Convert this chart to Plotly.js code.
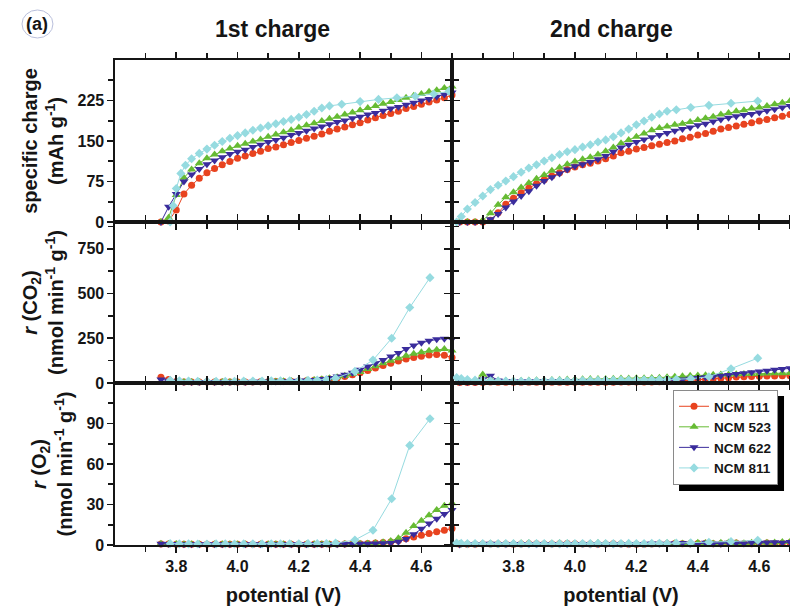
<!DOCTYPE html>
<html><head><meta charset="utf-8">
<script src="https://cdn.plot.ly/plotly-3.0.1.min.js"></script>
<style>html,body{margin:0;padding:0;background:#fff}#chart{width:790px;height:610px}</style>
</head><body><div id="chart"></div><script>
// ---------- DATA ----------
const seriesNames = ['NCM 111', 'NCM 523', 'NCM 622', 'NCM 811'];
const columnTitles = ['1st charge', '2nd charge'];

// potentials (V), 1st charge
const pot1 = [3.750,3.775,3.800,3.825,3.850,3.875,3.900,3.925,3.950,3.975,4.000,4.025,4.050,4.075,4.100,4.125,4.150,4.175,4.200,4.225,4.250,4.275,4.300,4.325,4.350,4.375,4.400,4.425,4.450,4.475,4.500,4.525,4.550,4.575,4.600,4.625,4.650,4.675,4.700];
const cyanPot1 = [3.780,3.790,3.800,3.815,3.830,3.850,3.875,3.900,3.925,3.950,3.975,4.000,4.025,4.050,4.075,4.100,4.125,4.150,4.175,4.200,4.225,4.250,4.275,4.300,4.340,4.400,4.460,4.520,4.580,4.640,4.690];
const cyanRatePot1 = [3.780,3.810,3.840,3.870,3.900,3.930,3.960,3.990,4.020,4.050,4.080,4.110,4.140,4.170,4.200,4.230,4.260,4.290,4.320,4.383,4.442,4.503,4.562,4.628];
// potentials (V), 2nd charge
const pot2 = [3.625,3.650,3.675,3.700,3.725,3.750,3.775,3.800,3.825,3.850,3.875,3.900,3.925,3.950,3.975,4.000,4.025,4.050,4.075,4.100,4.125,4.150,4.175,4.200,4.225,4.250,4.275,4.300,4.325,4.350,4.375,4.400,4.425,4.450,4.475,4.500,4.525,4.550,4.575,4.600,4.625,4.650,4.675,4.700];
const cyanPot2 = [3.615,3.630,3.650,3.675,3.700,3.725,3.750,3.775,3.800,3.825,3.850,3.875,3.900,3.925,3.950,3.975,4.000,4.025,4.050,4.075,4.100,4.125,4.150,4.175,4.200,4.225,4.250,4.275,4.300,4.330,4.377,4.436,4.508,4.595];

// specific charge (mAh/g), 1st charge
const q1_111 = [0,2,22,52,68,81,91,99,106,112,118,122,127,131,136,139,143,147,151,155,159,163,168,172,176,180,184,189,193,197,201,205,210,214,218,222,226,230,235];
const q1_523 = [0,8,50,82,97,109,118,125,131,136,141,145,149,153,158,162,166,170,175,179,183,187,191,195,199,203,207,211,215,219,222,226,230,234,237,241,244,248,251];
const q1_622 = [0,28,52,75,88,98,107,114,120,126,130,134,139,143,148,152,156,161,165,169,173,177,181,185,188,192,195,199,202,206,210,213,217,221,225,228,232,236,240];
const q1_811 = [0,30,62,90,105,117,127,135,142,149,155,160,165,170,174,178,182,186,190,194,199,205,211,215,218,223,227,230,233,237,242];
// specific charge (mAh/g), 2nd charge
const q2_111 = [0,0,0,0,3,17,33,44,54,63,71,78,85,91,97,102,106,109,113,117,122,128,131,135,138,141,144,147,150,154,157,161,164,168,172,175,178,181,184,187,190,193,196,199];
const q2_523 = [0,0,0,3,16,32,46,55,64,72,80,87,95,101,107,112,116,120,125,131,138,146,152,158,164,170,174,177,180,182,185,189,192,195,199,202,205,207,210,212,215,218,221,224];
const q2_622 = [0,0,0,0,5,15,27,38,48,57,67,76,83,90,97,103,107,111,116,122,130,138,143,148,153,157,161,165,169,172,175,179,182,186,190,193,196,198,200,203,206,209,212,215];
const q2_811 = [0,10,24,36,48,60,68,76,84,92,100,106,113,119,125,130,134,139,143,148,152,158,165,172,180,187,194,200,205,208,212,216,220,224];

// r(CO2) (nmol/min/g), 1st charge
const co2_1_111 = [32,20,8,6,5,5,5,5,5,5,6,6,6,7,7,8,9,10,11,13,15,18,22,28,36,46,58,70,84,98,111,123,134,143,150,156,159,155,142];
const co2_1_523 = [6,6,5,5,5,5,5,5,5,5,6,6,6,7,8,9,10,11,12,14,17,21,26,32,40,50,62,78,94,110,125,139,152,163,172,180,186,190,182];
const co2_1_622 = [20,12,8,6,6,6,6,6,6,6,6,6,7,7,8,9,10,11,12,14,17,22,28,36,46,58,74,92,110,128,148,168,190,210,225,236,244,248,246];
const co2_1_811 = [15,12,11,10,10,10,10,10,11,11,11,12,12,13,14,15,17,20,27,65,128,250,422,589];
// r(CO2) (nmol/min/g), 2nd charge
const co2_2_111 = [3,3,3,3,5,4,4,4,4,4,4,4,4,4,4,4,4,4,4,4,4,5,5,5,5,6,7,8,10,12,15,18,21,24,27,30,33,35,37,38,39,39,40,40];
const co2_2_523 = [8,8,10,48,22,14,12,12,13,14,15,16,17,18,19,20,21,22,23,23,24,25,25,26,27,28,30,32,35,38,40,42,44,46,47,48,49,50,51,52,53,54,55,56];
const co2_2_622 = [5,5,6,20,40,14,10,9,9,8,8,8,8,8,8,8,8,9,9,9,9,10,10,10,11,12,13,14,17,20,24,28,32,36,40,45,50,55,60,64,69,74,78,82];
const co2_2_811 = [30,25,20,16,14,12,11,11,10,10,10,11,11,12,12,13,13,14,14,15,15,16,16,17,17,18,18,19,20,21,24,35,80,139];

// r(O2) (nmol/min/g), 1st charge
const o2_1_111 = [0.8,0.7,0.6,0.6,0.6,0.5,0.5,0.5,0.5,0.5,0.5,0.5,0.5,0.5,0.5,0.5,0.5,0.5,0.5,0.5,0.5,0.5,0.6,0.7,0.8,0.9,1.0,1.2,1.5,1.9,2.3,3.3,4.6,6.0,7.3,8.6,9.8,11.0,12.2];
const o2_1_523 = [0.9,0.8,0.7,0.6,0.6,0.6,0.5,0.5,0.5,0.5,0.5,0.5,0.5,0.5,0.5,0.5,0.5,0.5,0.5,0.5,0.5,0.5,0.6,0.7,0.8,0.9,1.0,1.2,1.5,2.1,3.0,5.0,9.0,14.0,18.0,22.0,26.0,29.0,31.0];
const o2_1_622 = [0.9,0.8,0.7,0.6,0.6,0.5,0.5,0.5,0.5,0.5,0.5,0.5,0.5,0.5,0.5,0.5,0.5,0.5,0.5,0.5,0.5,0.5,0.5,0.6,0.7,0.8,0.9,1.0,1.1,1.3,1.5,2.5,4.5,8.0,12.0,16.0,19.5,23.0,26.0];
const o2_1_811 = [1.0,0.8,0.8,0.7,0.7,0.8,0.8,0.7,0.8,0.8,0.8,0.9,0.8,0.9,0.9,1.0,1.0,1.1,1.4,3.7,10.9,34.3,73.8,93.5];
// r(O2) (nmol/min/g), 2nd charge
const o2_2_111 = [0.5,0.5,0.6,0.7,0.8,0.8,0.7,0.6,0.8,0.9,1.0,0.8,0.7,0.9,1.1,0.9,0.8,0.7,0.6,0.8,0.9,0.7,0.6,0.5,0.6,0.8,0.9,1.0,1.2,1.0,0.9,1.1,1.3,1.0,0.9,1.2,1.4,1.1,1.0,1.3,1.5,1.2,1.3,1.6];
const o2_2_523 = [0.6,0.7,0.8,1.0,1.2,1.0,0.9,1.1,1.3,1.4,1.2,1.0,1.1,1.5,1.3,1.0,0.9,1.2,1.4,1.1,0.9,0.8,1.0,0.9,0.8,1.0,1.2,1.5,1.3,1.1,1.4,1.7,1.5,1.2,1.6,1.8,1.4,1.3,1.7,2.0,1.6,1.8,2.2,2.4];
const o2_2_622 = [0.4,0.5,0.5,0.6,0.9,0.7,0.6,0.8,0.7,0.6,0.5,0.6,0.7,0.6,0.5,0.7,0.8,0.6,0.5,0.4,0.6,0.7,0.5,0.6,0.8,1.2,0.9,0.7,1.3,1.5,1.0,0.8,1.6,1.2,1.0,1.7,1.4,1.1,1.8,1.5,1.9,2.1,1.7,2.3];
const o2_2_811 = [1.5,1.2,1.0,1.1,1.0,0.9,1.0,1.1,1.0,0.9,1.0,1.1,1.0,0.9,1.0,1.1,1.0,1.1,1.0,1.2,1.1,1.0,1.1,1.2,1.1,1.0,1.2,1.3,1.2,1.4,1.6,2.0,2.6,3.5];

// tick labels
const xTickVals = [3.8, 4.0, 4.2, 4.4, 4.6];
const xTickText = ['3.8', '4.0', '4.2', '4.4', '4.6'];
const xMinorVals = [3.7, 3.9, 4.1, 4.3, 4.5, 4.7];
const qTickVals = [0, 75, 150, 225];
const qMinorVals = [37.5, 112.5, 187.5, 262.5];
const co2TickVals = [0, 250, 500, 750];
const co2MinorVals = [125, 375, 625, 875];
const o2TickVals = [0, 30, 60, 90];
const o2MinorVals = [15, 45, 75, 105];

// ---------- STYLE ----------
const FONT = '"Liberation Sans", Arial, Helvetica, sans-serif';
const INK = '#151515';
const colors = ['#e8431f', '#66bb33', '#3a2c9c', '#96dbe0'];
const symbols = ['circle', 'triangle-up', 'triangle-down', 'diamond'];
const msizes = [7, 8, 8, 7];

function tr(i, x, y, xa, ya, legend) {
  return {
    type: 'scatter', mode: 'lines+markers', name: seriesNames[i],
    x: x, y: y, xaxis: xa, yaxis: ya, showlegend: legend, cliponaxis: false,
    line: {color: colors[i], width: 1},
    marker: {color: colors[i], symbol: symbols[i], size: msizes[i], line: {width: 0}}
  };
}

const traces = [
  tr(0, pot1, q1_111, 'x', 'y', true),
  tr(1, pot1, q1_523, 'x', 'y', true),
  tr(2, pot1, q1_622, 'x', 'y', true),
  tr(3, cyanPot1, q1_811, 'x', 'y', true),
  tr(0, pot2, q2_111, 'x2', 'y2', false),
  tr(1, pot2, q2_523, 'x2', 'y2', false),
  tr(2, pot2, q2_622, 'x2', 'y2', false),
  tr(3, cyanPot2, q2_811, 'x2', 'y2', false),
  tr(0, pot1, co2_1_111, 'x3', 'y3', false),
  tr(1, pot1, co2_1_523, 'x3', 'y3', false),
  tr(2, pot1, co2_1_622, 'x3', 'y3', false),
  tr(3, cyanRatePot1, co2_1_811, 'x3', 'y3', false),
  tr(0, pot2, co2_2_111, 'x4', 'y4', false),
  tr(1, pot2, co2_2_523, 'x4', 'y4', false),
  tr(2, pot2, co2_2_622, 'x4', 'y4', false),
  tr(3, cyanPot2, co2_2_811, 'x4', 'y4', false),
  tr(0, pot1, o2_1_111, 'x5', 'y5', false),
  tr(1, pot1, o2_1_523, 'x5', 'y5', false),
  tr(2, pot1, o2_1_622, 'x5', 'y5', false),
  tr(3, cyanRatePot1, o2_1_811, 'x5', 'y5', false),
  tr(0, pot2, o2_2_111, 'x6', 'y6', false),
  tr(1, pot2, o2_2_523, 'x6', 'y6', false),
  tr(2, pot2, o2_2_622, 'x6', 'y6', false),
  tr(3, cyanPot2, o2_2_811, 'x6', 'y6', false)
];

const colDom = [[0, 0.4993], [0.4993, 1]];
const rowDom = [[0.666, 1], [0.334, 0.666], [0, 0.334]];

function common() {
  return {
    showline: true, linecolor: INK, linewidth: 1.6, mirror: 'ticks',
    ticks: 'outside', ticklen: 6, tickwidth: 1.6, tickcolor: INK,
    showgrid: false, zeroline: false, fixedrange: true,
    tickfont: {family: FONT, size: 16, color: INK, weight: 'bold'}
  };
}
function xAx(col, row, anchor) {
  const a = Object.assign(common(), {
    domain: colDom[col], anchor: anchor, range: [3.6, 4.7],
    tickmode: 'array', tickvals: xTickVals, ticktext: xTickText,
    showticklabels: row === 2,
    minor: {tickmode: 'array', tickvals: xMinorVals, ticks: 'outside', ticklen: 5, tickwidth: 1.6, tickcolor: INK, showgrid: false}
  });
  if (row === 2) a.title = {text: 'potential (V)', font: {family: FONT, size: 20, color: INK, weight: 'bold'}, standoff: 14};
  return a;
}
function yAx(col, row, anchor, range, tv, mv, title) {
  const a = Object.assign(common(), {
    domain: rowDom[row], anchor: anchor, range: range,
    tickmode: 'array', tickvals: tv, ticktext: tv.map(String),
    showticklabels: col === 0,
    minor: {tickmode: 'array', tickvals: mv, ticks: 'outside', ticklen: 5, tickwidth: 1.6, tickcolor: INK, showgrid: false}
  });
  if (col === 0) a.title = {text: title, font: {family: FONT, size: 20, color: INK, weight: 'bold'}, standoff: 8};
  return a;
}

const qTitle = 'specific charge<br>(mAh g<sup>-1</sup>)';
const co2Title = '<i>r</i> (CO<sub>2</sub>)<br>(nmol min<sup>-1</sup> g<sup>-1</sup>)';
const o2Title = '<i>r</i> (O<sub>2</sub>)<br>(nmol min<sup>-1</sup> g<sup>-1</sup>)';

const LEG_X = 0.8267, LEG_Y = 0.3196, SHADOW = 6;

const layout = {
  width: 790, height: 610,
  margin: {l: 115, r: 0, t: 60, b: 65, pad: 0},
  paper_bgcolor: '#fff', plot_bgcolor: '#fff',
  font: {family: FONT, color: INK},
  showlegend: true,
  legend: {
    x: LEG_X, y: LEG_Y, xanchor: 'left', yanchor: 'top',
    bgcolor: '#ffffff', bordercolor: '#8a8a8a', borderwidth: 1,
    font: {family: FONT, size: 13.5, color: INK, weight: 'bold'},
    tracegroupgap: 0, itemwidth: 30
  },
  xaxis: xAx(0, 0, 'y'), yaxis: yAx(0, 0, 'x', [0, 300], qTickVals, qMinorVals, qTitle),
  xaxis2: xAx(1, 0, 'y2'), yaxis2: yAx(1, 0, 'x2', [0, 300], qTickVals, qMinorVals, qTitle),
  xaxis3: xAx(0, 1, 'y3'), yaxis3: yAx(0, 1, 'x3', [0, 900], co2TickVals, co2MinorVals, co2Title),
  xaxis4: xAx(1, 1, 'y4'), yaxis4: yAx(1, 1, 'x4', [0, 900], co2TickVals, co2MinorVals, co2Title),
  xaxis5: xAx(0, 2, 'y5'), yaxis5: yAx(0, 2, 'x5', [0, 120], o2TickVals, o2MinorVals, o2Title),
  xaxis6: xAx(1, 2, 'y6'), yaxis6: yAx(1, 2, 'x6', [0, 120], o2TickVals, o2MinorVals, o2Title),
  annotations: [
    {text: columnTitles[0], xref: 'paper', yref: 'paper', x: 0.2326, y: 1.064, xanchor: 'center', yanchor: 'middle', showarrow: false, font: {family: FONT, size: 23, color: INK, weight: 'bold'}},
    {text: columnTitles[1], xref: 'paper', yref: 'paper', x: 0.7358, y: 1.064, xanchor: 'center', yanchor: 'middle', showarrow: false, font: {family: FONT, size: 23, color: INK, weight: 'bold'}},
    {text: '(a)', xref: 'paper', yref: 'paper', x: -0.1155, y: 1.074, xanchor: 'center', yanchor: 'middle', showarrow: false, font: {family: FONT, size: 18, color: INK, weight: 'bold'}}
  ],
  shapes: [
    {type: 'circle', xref: 'paper', yref: 'paper', x0: -0.1378, x1: -0.0919, y0: 1.0454, y1: 1.1031, line: {color: '#b9bfdc', width: 1}}
  ]
};

Plotly.newPlot('chart', traces, layout, {displayModeBar: false, staticPlot: true}).then(function (gd) {
  // drop shadow behind the legend, sized from the legend Plotly actually drew
  const fl = gd._fullLayout, leg = fl.legend, m = fl._size;
  const w = leg._width, h = leg._height;
  const pw = m.w, ph = m.h;
  const x0 = LEG_X + SHADOW / pw, x1 = LEG_X + (w + SHADOW) / pw;
  const y1 = LEG_Y - SHADOW / ph, y0 = LEG_Y - (h + SHADOW) / ph;
  const shapes = layout.shapes.concat([{type: 'rect', xref: 'paper', yref: 'paper', x0: x0, x1: x1, y0: y0, y1: y1, fillcolor: '#000', line: {width: 0}, layer: 'above'}]);
  return Plotly.relayout(gd, {shapes: shapes});
});
</script></body></html>
